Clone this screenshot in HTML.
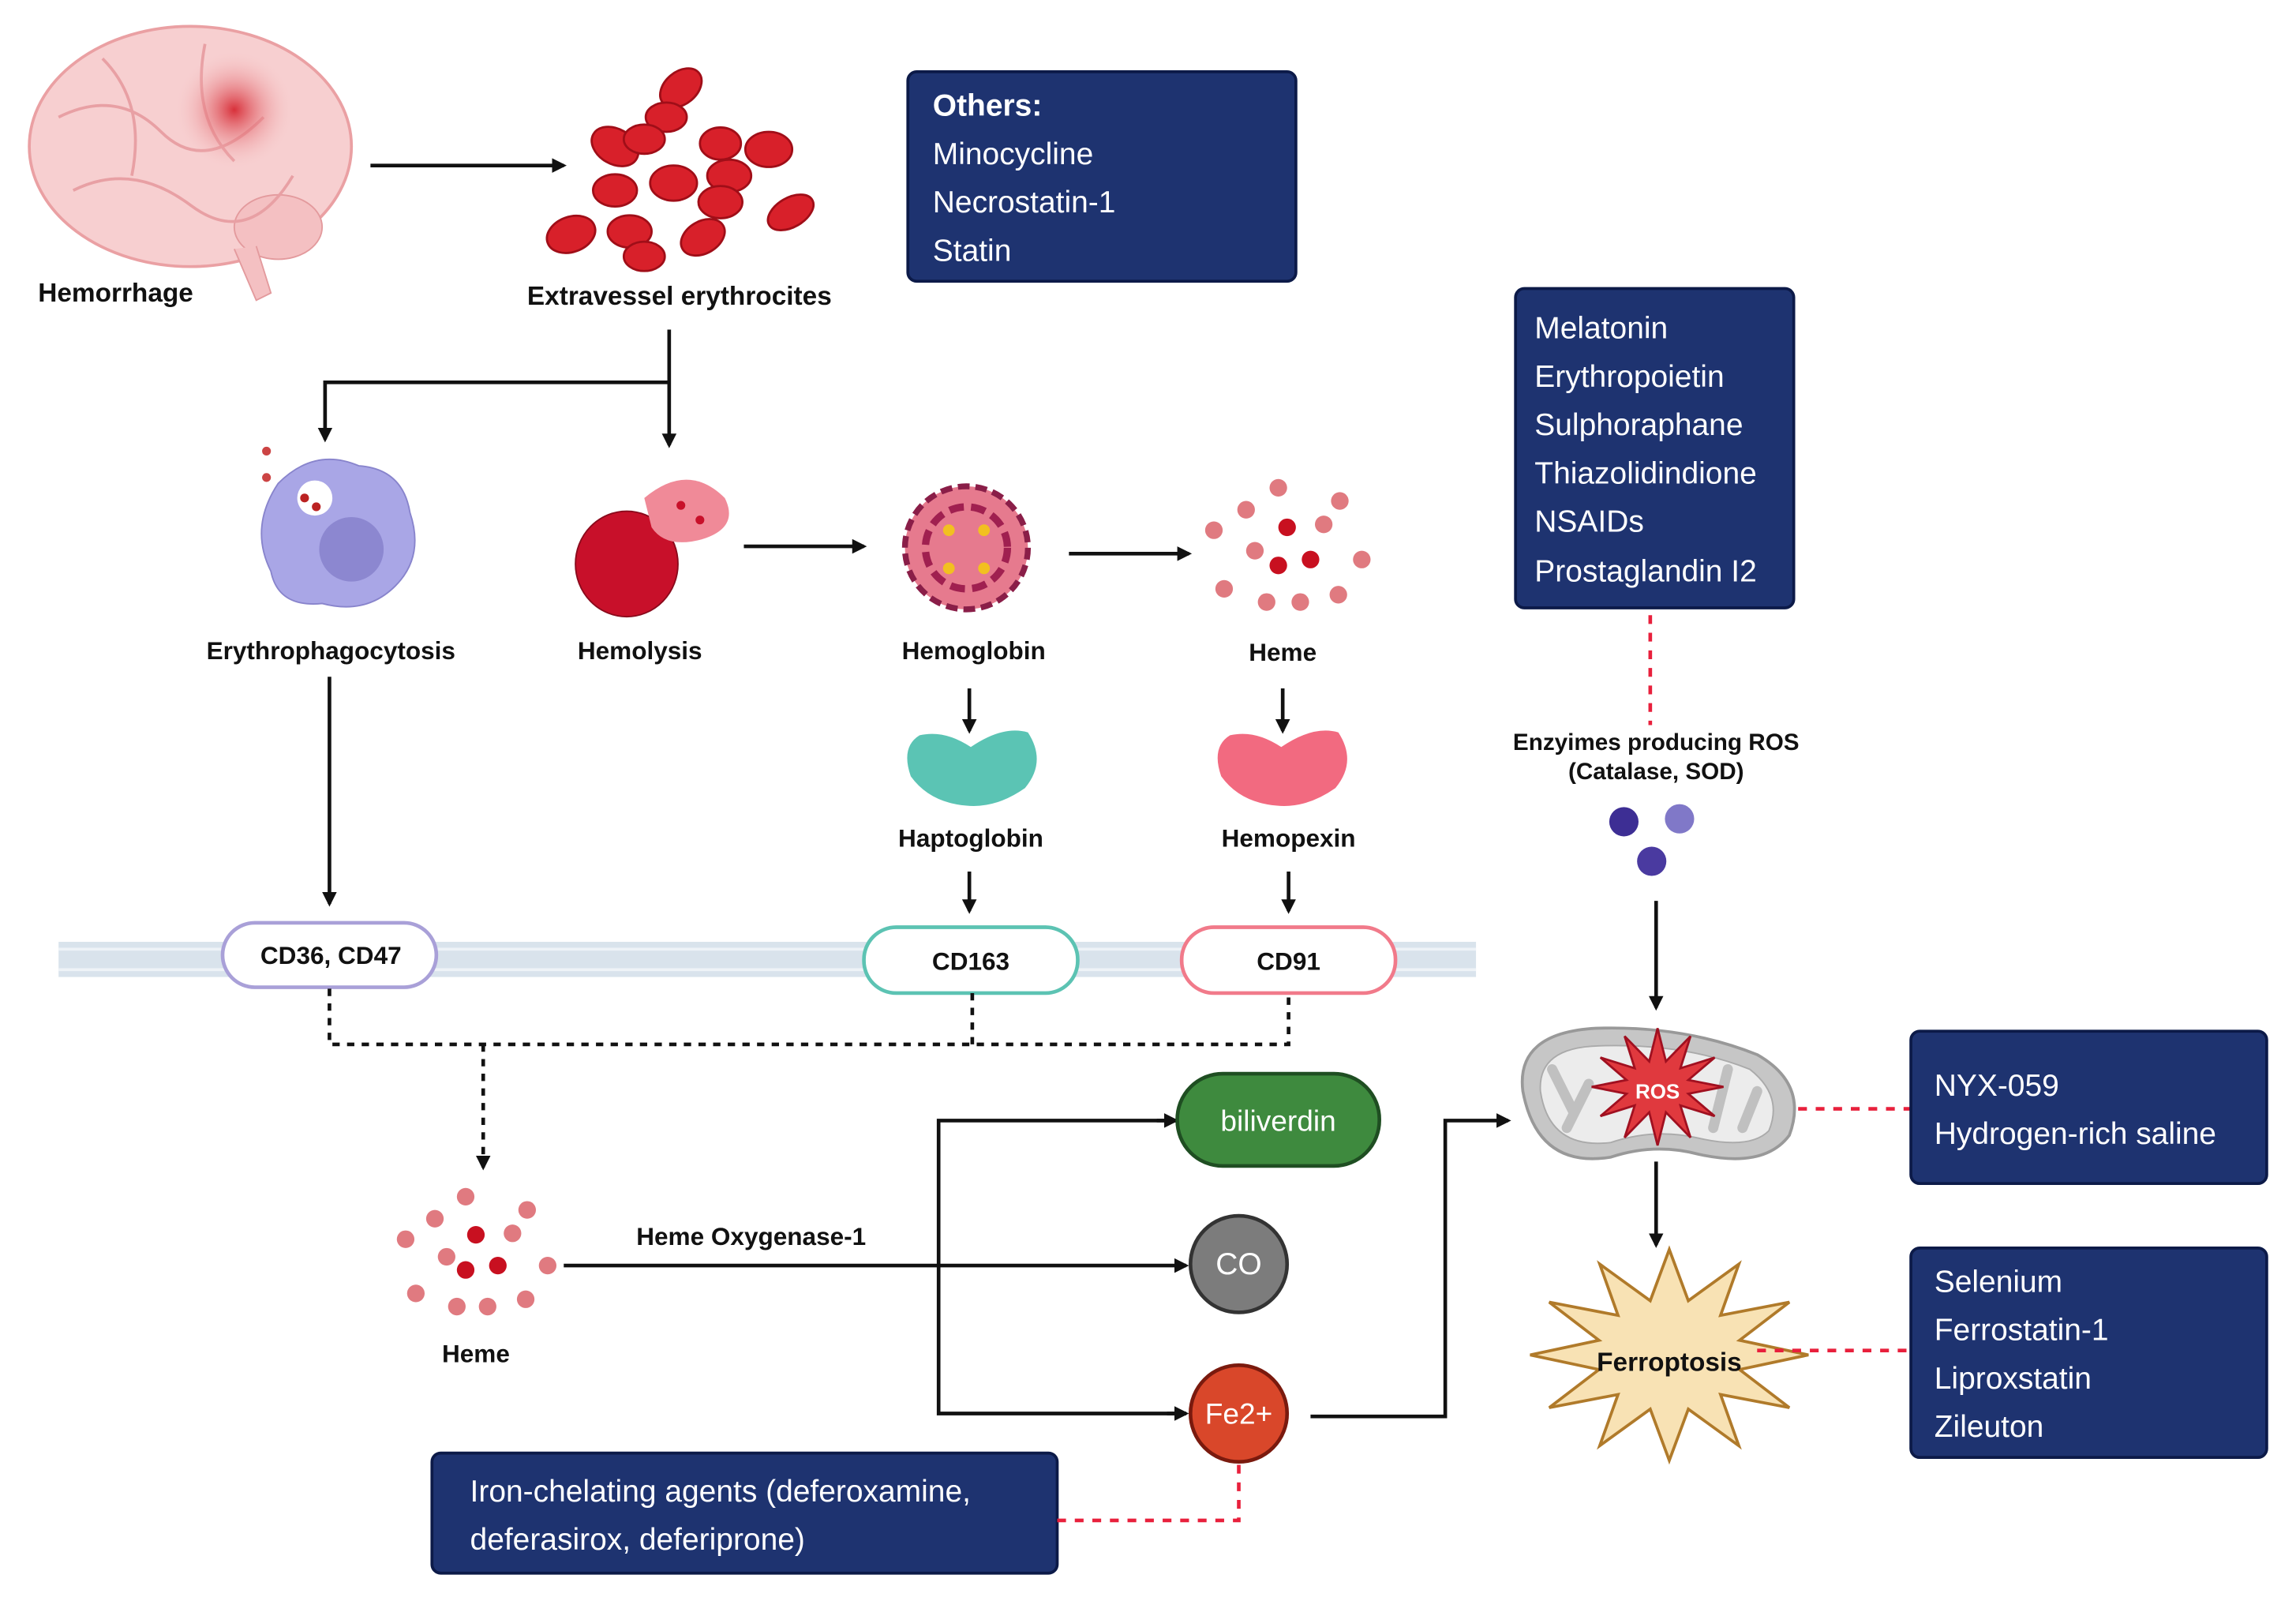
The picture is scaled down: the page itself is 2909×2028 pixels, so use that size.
<!DOCTYPE html>
<html><head><meta charset="utf-8"><style>
html,body{margin:0;padding:0;background:#fff}
svg{display:block}
text{font-family:"Liberation Sans",sans-serif}
.b{font-weight:bold;fill:#111;font-size:17px;text-anchor:middle}
.w{fill:#fff;font-size:21px}
.box{fill:#1e3370;stroke:#0c1a48;stroke-width:2}
.ar{stroke:#111;stroke-width:2.5;fill:none}
.dot{stroke:#111;stroke-width:2.5;fill:none;stroke-dasharray:5 5}
.red{stroke:#e8203c;stroke-width:2.5;fill:none;stroke-dasharray:6 6}
</style></head><body>
<svg width="2909" height="2028" viewBox="0 0 1568 1093" preserveAspectRatio="none" xmlns="http://www.w3.org/2000/svg">
<defs>
<marker id="m" markerWidth="10" markerHeight="10" refX="8" refY="5" orient="auto" markerUnits="userSpaceOnUse"><path d="M0,0 L10,5 L0,10 z" fill="#111"/></marker>
<radialGradient id="spot"><stop offset="0" stop-color="#d8303a"/><stop offset="1" stop-color="#f6c7c8" stop-opacity="0"/></radialGradient>
</defs>

<!-- Brain -->
<ellipse cx="130" cy="100" rx="110" ry="82" fill="#f7cfd0" stroke="#eaa0a3" stroke-width="2"/>
<ellipse cx="190" cy="155" rx="30" ry="22" fill="#f4c0c2" stroke="#e39a9d"/>
<path d="M160,170 L175,205 L185,200 L175,168" fill="#f4c0c2" stroke="#e39a9d"/>
<path d="M40,80 Q80,60 110,90 T180,80 M50,130 Q90,110 130,140 T200,120 M70,40 Q100,70 90,120 M140,30 Q130,80 160,110" stroke="#e8a0a4" stroke-width="2" fill="none"/>
<circle cx="160" cy="75" r="40" fill="url(#spot)"/>
<text x="26" y="206" style="font-weight:bold;font-size:18px;fill:#111">Hemorrhage</text>
<line x1="253" y1="113" x2="385" y2="113" class="ar" marker-end="url(#m)"/>

<!-- RBCs -->
<g fill="#d8202a" stroke="#a00e18" stroke-width="1.5">
<ellipse cx="465" cy="60" rx="16" ry="11" transform="rotate(-40 465 60)"/>
<ellipse cx="455" cy="80" rx="14" ry="10"/>
<ellipse cx="420" cy="100" rx="17" ry="12" transform="rotate(30 420 100)"/>
<ellipse cx="440" cy="95" rx="14" ry="10"/>
<ellipse cx="492" cy="98" rx="14" ry="11"/>
<ellipse cx="525" cy="102" rx="16" ry="12"/>
<ellipse cx="498" cy="120" rx="15" ry="11"/>
<ellipse cx="420" cy="130" rx="15" ry="11"/>
<ellipse cx="460" cy="125" rx="16" ry="12"/>
<ellipse cx="492" cy="138" rx="15" ry="11"/>
<ellipse cx="540" cy="145" rx="17" ry="10" transform="rotate(-30 540 145)"/>
<ellipse cx="390" cy="160" rx="17" ry="12" transform="rotate(-20 390 160)"/>
<ellipse cx="430" cy="158" rx="15" ry="11"/>
<ellipse cx="480" cy="162" rx="16" ry="11" transform="rotate(-30 480 162)"/>
<ellipse cx="440" cy="175" rx="14" ry="10"/>
</g>
<text x="464" y="208" class="b" style="font-size:18px">Extravessel erythrocites</text>

<!-- Others box -->
<rect x="620" y="49" width="265" height="143" rx="6" class="box"/>
<text x="637" y="79" class="w" style="font-weight:bold">Others:</text>
<text x="637" y="112" class="w">Minocycline</text>
<text x="637" y="145" class="w">Necrostatin-1</text>
<text x="637" y="178" class="w">Statin</text>

<!-- Melatonin box -->
<rect x="1035" y="197" width="190" height="218" rx="6" class="box"/>
<text x="1048" y="231" class="w">Melatonin</text>
<text x="1048" y="264" class="w">Erythropoietin</text>
<text x="1048" y="297" class="w">Sulphoraphane</text>
<text x="1048" y="330" class="w">Thiazolidindione</text>
<text x="1048" y="363" class="w">NSAIDs</text>
<text x="1048" y="397" class="w">Prostaglandin I2</text>

<!-- split arrows -->
<path d="M457,225 L457,304" class="ar" marker-end="url(#m)"/>
<path d="M457,261 L222,261 L222,300" class="ar" marker-end="url(#m)"/>

<!-- macrophage -->
<path d="M190,330 Q215,305 245,318 Q275,320 280,350 Q290,380 270,400 Q250,420 220,412 Q190,415 185,390 Q170,360 190,330z" fill="#a9a6e6" stroke="#8884cc"/>
<circle cx="240" cy="375" r="22" fill="#8c87d0"/>
<circle cx="215" cy="340" r="12" fill="#fff"/>
<circle cx="208" cy="340" r="3" fill="#b22"/><circle cx="216" cy="346" r="3" fill="#b22"/><circle cx="182" cy="308" r="3" fill="#c44"/><circle cx="182" cy="326" r="3" fill="#c44"/>
<text x="226" y="450" class="b">Erythrophagocytosis</text>

<!-- hemolysis -->
<ellipse cx="428" cy="385" rx="35" ry="36" fill="#c8102a" stroke="#8a0a1c"/>
<path d="M440,340 Q470,315 495,340 Q505,360 480,368 Q455,375 445,360z" fill="#f08a98"/>
<circle cx="465" cy="345" r="3" fill="#c8102a"/><circle cx="478" cy="355" r="3" fill="#c8102a"/>
<text x="437" y="450" class="b">Hemolysis</text>
<line x1="508" y1="373" x2="590" y2="373" class="ar" marker-end="url(#m)"/>

<!-- hemoglobin -->
<circle cx="660" cy="374" r="42" fill="#e67a8e" stroke="#8a1e48" stroke-width="4" stroke-dasharray="8 4"/>
<circle cx="660" cy="374" r="28" fill="none" stroke="#a02050" stroke-width="5" stroke-dasharray="10 5"/>
<circle cx="648" cy="362" r="4" fill="#f2c020"/><circle cx="672" cy="362" r="4" fill="#f2c020"/><circle cx="648" cy="388" r="4" fill="#f2c020"/><circle cx="672" cy="388" r="4" fill="#f2c020"/>
<text x="665" y="450" class="b">Hemoglobin</text>
<line x1="730" y1="378" x2="812" y2="378" class="ar" marker-end="url(#m)"/>

<!-- heme top -->
<g fill="#e07a80">
<circle cx="873" cy="333" r="6"/><circle cx="915" cy="342" r="6"/><circle cx="851" cy="348" r="6"/><circle cx="829" cy="362" r="6"/><circle cx="904" cy="358" r="6"/><circle cx="857" cy="376" r="6"/><circle cx="930" cy="382" r="6"/><circle cx="836" cy="402" r="6"/><circle cx="865" cy="411" r="6"/><circle cx="888" cy="411" r="6"/><circle cx="914" cy="406" r="6"/>
</g>
<g fill="#c81020"><circle cx="879" cy="360" r="6"/><circle cx="873" cy="386" r="6"/><circle cx="895" cy="382" r="6"/></g>
<text x="876" y="451" class="b">Heme</text>

<line x1="662" y1="470" x2="662" y2="499" class="ar" marker-end="url(#m)"/>
<line x1="876" y1="470" x2="876" y2="499" class="ar" marker-end="url(#m)"/>
<path d="M628,502 Q645,498 663,510 Q685,495 702,500 Q715,520 700,538 Q680,552 660,550 Q635,548 622,530 Q615,510 628,502z" fill="#5bc4b4"/>
<path d="M840,502 Q857,498 875,510 Q897,495 914,500 Q927,520 912,538 Q892,552 872,550 Q847,548 834,530 Q827,510 840,502z" fill="#f26a80"/>
<text x="663" y="578" class="b">Haptoglobin</text>
<text x="880" y="578" class="b">Hemopexin</text>
<line x1="662" y1="595" x2="662" y2="622" class="ar" marker-end="url(#m)"/>
<line x1="880" y1="595" x2="880" y2="622" class="ar" marker-end="url(#m)"/>

<!-- membrane -->
<rect x="40" y="643" width="968" height="24" fill="#d9e3ec"/>
<line x1="40" y1="648" x2="1008" y2="648" stroke="#eef3f7" stroke-width="2"/>
<line x1="40" y1="662" x2="1008" y2="662" stroke="#eef3f7" stroke-width="2"/>
<line x1="225" y1="462" x2="225" y2="617" class="ar" marker-end="url(#m)"/>
<rect x="152" y="630" width="146" height="44" rx="22" fill="#fff" stroke="#a9a0d8" stroke-width="2.5"/>
<text x="226" y="658" class="b">CD36, CD47</text>
<rect x="590" y="633" width="146" height="45" rx="22" fill="#fff" stroke="#5cc3b3" stroke-width="2.5"/>
<text x="663" y="662" class="b">CD163</text>
<rect x="807" y="633" width="146" height="45" rx="22" fill="#fff" stroke="#f17a8a" stroke-width="2.5"/>
<text x="880" y="662" class="b">CD91</text>

<path d="M225,675 L225,713 L880,713 L880,678 M664,678 L664,713" class="dot"/>
<path d="M330,713 L330,797" class="dot" marker-end="url(#m)"/>

<!-- heme bottom -->
<g fill="#e07a80">
<circle cx="318" cy="817" r="6"/><circle cx="360" cy="826" r="6"/><circle cx="297" cy="832" r="6"/><circle cx="277" cy="846" r="6"/><circle cx="350" cy="842" r="6"/><circle cx="305" cy="858" r="6"/><circle cx="374" cy="864" r="6"/><circle cx="284" cy="883" r="6"/><circle cx="312" cy="892" r="6"/><circle cx="333" cy="892" r="6"/><circle cx="359" cy="887" r="6"/>
</g>
<g fill="#c81020"><circle cx="325" cy="843" r="6"/><circle cx="318" cy="867" r="6"/><circle cx="340" cy="864" r="6"/></g>
<text x="325" y="930" class="b">Heme</text>

<line x1="385" y1="864" x2="810" y2="864" class="ar" marker-end="url(#m)"/>
<text x="513" y="850" class="b">Heme Oxygenase-1</text>
<path d="M803,765 L641,765 L641,965 L810,965" class="ar"/>
<line x1="790" y1="765" x2="803" y2="765" class="ar" marker-end="url(#m)"/>
<line x1="797" y1="965" x2="810" y2="965" class="ar" marker-end="url(#m)"/>

<rect x="804" y="733" width="138" height="63" rx="31" fill="#3e8a3e" stroke="#1f4e22" stroke-width="2.5"/>
<text x="873" y="772" class="w" style="text-anchor:middle;font-size:20px">biliverdin</text>
<circle cx="846" cy="863" r="33" fill="#7c7c7c" stroke="#333" stroke-width="2.5"/>
<text x="846" y="870" class="w" style="text-anchor:middle">CO</text>
<circle cx="846" cy="965" r="33" fill="#d9472a" stroke="#7a1a0e" stroke-width="2.5"/>
<text x="846" y="972" class="w" style="text-anchor:middle;font-size:20px">Fe2+</text>

<rect x="295" y="992" width="427" height="82" rx="6" class="box"/>
<text x="321" y="1025" class="w">Iron-chelating agents (deferoxamine,</text>
<text x="321" y="1058" class="w">deferasirox, deferiprone)</text>
<path d="M722,1038 L846,1038 L846,998" class="red"/>

<path d="M895,967 L987,967 L987,765 L1030,765" class="ar" marker-end="url(#m)"/>

<!-- right column -->
<line x1="1127" y1="420" x2="1127" y2="495" class="red"/>
<text x="1131" y="512" class="b" style="font-size:16px">Enzyimes producing ROS</text>
<text x="1131" y="532" class="b" style="font-size:16px">(Catalase, SOD)</text>
<circle cx="1109" cy="561" r="10" fill="#3d2e94"/><circle cx="1147" cy="559" r="10" fill="#8078c8"/><circle cx="1128" cy="588" r="10" fill="#4a3aa0"/>
<line x1="1131" y1="615" x2="1131" y2="688" class="ar" marker-end="url(#m)"/>

<path d="M1040,745 Q1035,705 1090,702 Q1150,700 1200,720 Q1235,740 1222,775 Q1205,798 1160,788 Q1130,780 1100,790 Q1050,798 1040,745z" fill="#c6c6c6" stroke="#999" stroke-width="2"/>
<path d="M1052,745 Q1050,715 1092,714 Q1150,712 1195,730 Q1218,748 1208,772 Q1195,785 1160,777 Q1130,770 1100,780 Q1058,785 1052,745z" fill="#ececec" stroke="#aaa"/>
<path d="M1060,730 L1075,760 M1180,730 L1170,770 M1200,745 L1190,770 M1070,770 L1085,740" stroke="#c0c0c0" stroke-width="7" stroke-linecap="round"/>
<polygon points="1177,742 1153,746.7 1171,762 1147.6,754.7 1154.5,776.6 1137.7,759.4 1132,782 1126.3,759.4 1109.5,776.6 1116.4,754.7 1093,762 1110.8,746.7 1087,742 1110.8,737.3 1093,722 1116.4,729.3 1109.5,707.4 1126.3,724.6 1132,702 1137.7,724.6 1154.5,707.4 1147.6,729.3 1171,722 1153,737.3" fill="#e0393e" stroke="#a01020" stroke-width="1.5"/>
<text x="1132" y="750" style="font-weight:bold;font-size:14px;fill:#fff;text-anchor:middle">ROS</text>
<line x1="1228" y1="757" x2="1305" y2="757" class="red"/>
<rect x="1305" y="704" width="243" height="104" rx="6" class="box"/>
<text x="1321" y="748" class="w">NYX-059</text>
<text x="1321" y="781" class="w">Hydrogen-rich saline</text>

<line x1="1131" y1="793" x2="1131" y2="850" class="ar" marker-end="url(#m)"/>
<polygon points="1235,925 1188,935 1222,961 1175,952 1187.5,987 1153,962 1140,997 1127,962 1092.5,987 1105,952 1058,961 1092,935 1045,925 1092,915 1058,889 1105,898 1092.5,863 1127,888 1140,853 1153,888 1187.5,863 1175,898 1222,889 1188,915" fill="#f8e2b4" stroke="#b07a2a" stroke-width="2"/>
<text x="1140" y="936" class="b" style="font-size:18px">Ferroptosis</text>
<line x1="1200" y1="922" x2="1305" y2="922" class="red"/>
<rect x="1305" y="852" width="243" height="143" rx="6" class="box"/>
<text x="1321" y="882" class="w">Selenium</text>
<text x="1321" y="915" class="w">Ferrostatin-1</text>
<text x="1321" y="948" class="w">Liproxstatin</text>
<text x="1321" y="981" class="w">Zileuton</text>
</svg>
</body></html>
